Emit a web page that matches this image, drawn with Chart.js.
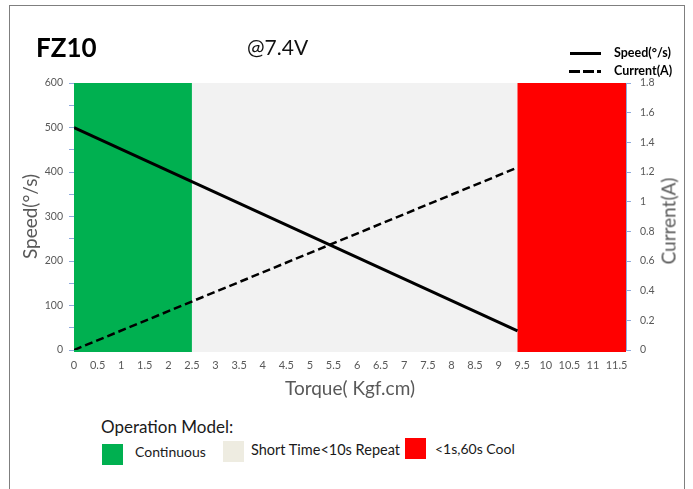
<!DOCTYPE html>
<html>
<head>
<meta charset="utf-8">
<script src="https://cdn.jsdelivr.net/npm/chart.js@4.4.1/dist/chart.umd.min.js"></script>
<style>
  html,body{margin:0;padding:0;background:#fff}
  body{width:693px;height:489px;position:relative;overflow:hidden;font-family:Lato,"Open Sans",sans-serif}
  .frame{position:absolute;left:9px;top:5px;width:676px;height:500px;border:1.5px solid #7f7f7f;box-sizing:border-box}
  .wrap{position:absolute;left:0;top:0;width:693px;height:402px}
  .abs{position:absolute;white-space:nowrap}
  .sw{position:absolute;width:21px;height:21px}
</style>
</head>
<body>
<div class="frame"></div>
<div class="wrap"><canvas id="fz10Chart"></canvas></div>

<div class="abs" style="left:36px;top:31px;font-size:26px;font-weight:700;color:#000">FZ10</div>
<div class="abs" style="left:247px;top:34px;font-size:21px;color:#111">@7.4V</div>

<!-- top right legend -->
<div class="abs" style="left:570px;top:52px;width:31px;height:3px;background:#000"></div>
<div class="abs" style="left:614px;top:45px;font-size:12.5px;font-weight:700;color:#000">Speed(°/s)</div>
<div class="abs" style="left:569px;top:70px;width:32px;height:3px;background:repeating-linear-gradient(90deg,#000 0 11px,transparent 11px 14px)"></div>
<div class="abs" style="left:614px;top:63px;font-size:12.5px;font-weight:700;color:#000">Current(A)</div>

<!-- right axis title -->
<div class="abs" style="left:668px;top:221px;transform:translate(-50%,-50%) rotate(-90deg);font-size:19px;color:#595959">Current(A)</div>

<!-- operation model legend -->
<div class="abs" style="left:101px;top:416px;font-size:17px;color:#1a1a1a">Operation Model:</div>
<div class="sw" style="left:102px;top:444px;background:#00b050"></div>
<div class="abs" style="left:135px;top:443px;font-size:14px;color:#1a1a1a">Continuous</div>
<div class="sw" style="left:223px;top:441px;background:#eeece1"></div>
<div class="abs" style="left:251px;top:441px;font-size:14.5px;color:#1a1a1a">Short Time&lt;10s Repeat</div>
<div class="sw" style="left:405px;top:438px;background:#ff0000"></div>
<div class="abs" style="left:435px;top:440px;font-size:14px;color:#1a1a1a">&lt;1s,60s Cool</div>

<script>
// torque points of the two lines (Kgf.cm)
const torque = [0, 9.4];
const speed = [500, 43];        // °/s
const current = [0, 1.23];      // A

// operation zones along the torque axis
const zoneBounds = [0, 2.5, 9.4, 11.7];
const zoneColors = ['#00b050', '#f2f2f2', '#ff0000'];

const tickColor = '#595959';
const axisBlue = '#8faadc';

const zonePlugin = {
  id: 'zones',
  beforeDatasetsDraw(chart) {
    const { ctx, chartArea, scales } = chart;
    ctx.save();
    for (let i = 0; i < zoneColors.length; i++) {
      const x0 = scales.x.getPixelForValue(zoneBounds[i]);
      const x1 = scales.x.getPixelForValue(zoneBounds[i + 1]);
      ctx.fillStyle = zoneColors[i];
      ctx.fillRect(x0, chartArea.top, x1 - x0, chartArea.bottom - chartArea.top + 2);
    }
    ctx.restore();
  }
};

new Chart(document.getElementById('fz10Chart'), {
  type: 'line',
  data: {
    datasets: [
      { label: 'Speed(°/s)', data: torque.map((t, i) => ({ x: t, y: speed[i] })), yAxisID: 'y',
        borderColor: '#000', borderWidth: 3, pointRadius: 0, tension: 0 },
      { label: 'Current(A)', data: torque.map((t, i) => ({ x: t, y: current[i] })), yAxisID: 'y1',
        borderColor: '#000', borderWidth: 2.5, borderDash: [8, 4], pointRadius: 0, tension: 0 }
    ]
  },
  options: {
    responsive: true, maintainAspectRatio: false, animation: false,
    layout: { padding: { top: 83, left: 0, right: 0, bottom: 0 } },
    plugins: { legend: { display: false }, tooltip: { enabled: false } },
    scales: {
      x: {
        type: 'linear', min: zoneBounds[0], max: zoneBounds[3],
        grid: { display: false, drawTicks: false }, border: { display: false },
        ticks: { stepSize: 0.5, includeBounds: false, padding: 9, color: tickColor,
          font: { family: 'Lato', size: 11 }, maxRotation: 0, autoSkip: false,
          callback: v => String(v) },
        title: { display: true, text: 'Torque( Kgf.cm)', color: tickColor,
          font: { family: 'Lato', size: 19 }, padding: { top: 2, bottom: 2 } },
        afterFit: s => { s.height = 52; }
      },
      y: {
        position: 'left', min: 0, max: 600,
        grid: { drawOnChartArea: false, drawTicks: true, tickLength: 5, color: axisBlue },
        border: { display: true, color: axisBlue },
        ticks: { stepSize: 50, padding: 6, color: tickColor, font: { family: 'Lato', size: 10.5 },
          callback: v => (v % 100 === 0 ? String(v) : '') },
        title: { display: true, text: 'Speed(°/s)', color: tickColor,
          font: { family: 'Lato', size: 19 }, padding: { top: 19, bottom: 0 } },
        afterFit: s => { s.width = 74; }
      },
      y1: {
        position: 'right', min: 0, max: 1.8,
        grid: { drawOnChartArea: false, drawTicks: true, tickLength: 5, color: axisBlue },
        border: { display: true, color: axisBlue },
        ticks: { stepSize: 0.1, padding: 9, color: tickColor, font: { family: 'Lato', size: 10.5 },
          callback: v => (Math.round(v * 10) % 2 === 0 ? String(Math.round(v * 10) / 10) : '') },
        afterFit: s => { s.width = 67; }
      }
    }
  },
  plugins: [zonePlugin]
});
</script>
</body>
</html>
